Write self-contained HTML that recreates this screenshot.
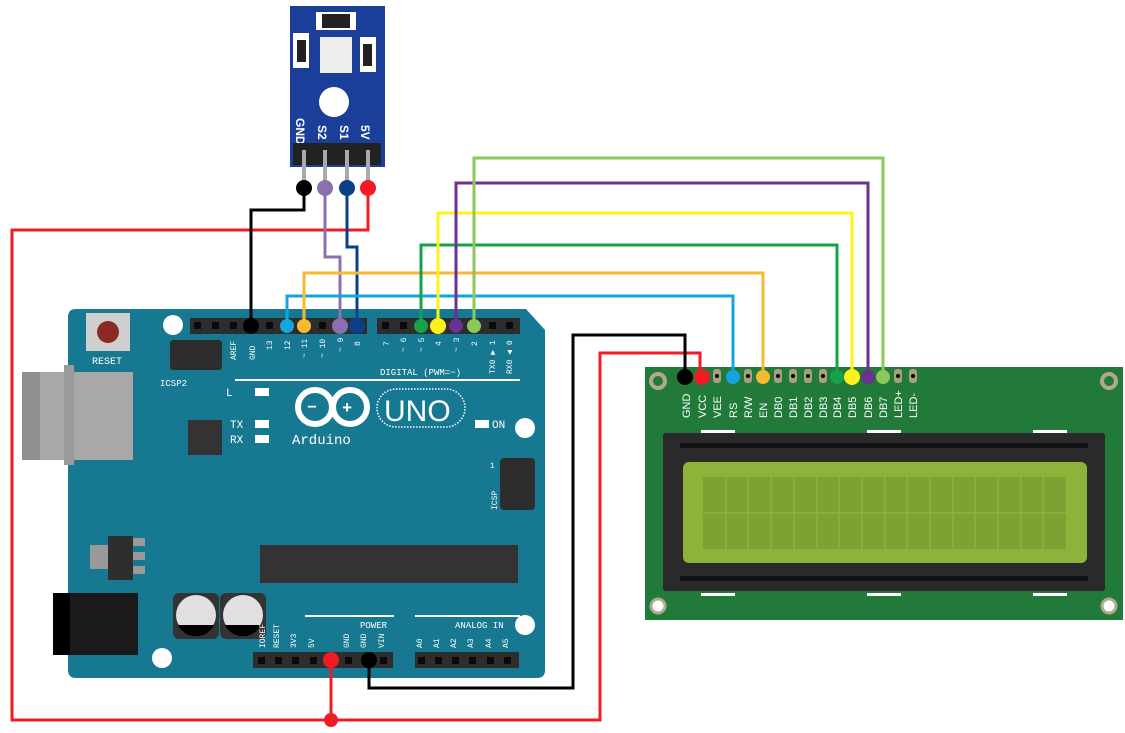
<!DOCTYPE html>
<html><head><style>body{margin:0;background:#fff}svg{display:block}</style></head><body>
<svg width="1125" height="733" viewBox="0 0 1125 733" xmlns="http://www.w3.org/2000/svg" font-family="Liberation Mono, monospace">
<!-- Arduino board -->
<path d="M76,309 H526 L545,330 V420 L545,670 Q545,678 537,678 H76 Q68,678 68,670 V317 Q68,309 76,309 Z" fill="#177892"/>
<rect x="22" y="372" width="111" height="88" fill="#a8a8a8"/><rect x="22" y="372" width="18" height="88" fill="#8f8f8f"/>
<rect x="64" y="365" width="10" height="100" fill="#9a9a9a"/>
<rect x="53" y="593" width="85" height="62" fill="#1a1a1a"/><rect x="53" y="593" width="17" height="62" fill="#000"/>
<rect x="86" y="313" width="44" height="38" fill="#cfcfcf"/><circle cx="108" cy="332" r="11" fill="#8a2a24"/>
<text x="92" y="364" font-size="10" fill="#fff">RESET</text>
<circle cx="173" cy="325" r="10" fill="#fff"/><circle cx="525" cy="428" r="10" fill="#fff"/><circle cx="525" cy="625" r="10" fill="#fff"/><circle cx="162" cy="658" r="10" fill="#fff"/>
<rect x="170" y="340" width="52" height="30" rx="3" fill="#2d2d2d"/>
<text x="160" y="386" font-size="9" fill="#fff">ICSP2</text>
<rect x="188" y="420" width="34" height="35" fill="#333"/>
<rect x="255" y="388" width="14" height="8" fill="#fff"/><rect x="255" y="420" width="14" height="8" fill="#fff"/><rect x="255" y="435" width="14" height="8" fill="#fff"/><rect x="475" y="420" width="14" height="8" fill="#fff"/>
<text x="226" y="396" font-size="11" fill="#fff">L</text><text x="230" y="428" font-size="11" fill="#fff">TX</text><text x="230" y="443" font-size="11" fill="#fff">RX</text><text x="492" y="428" font-size="11" fill="#fff">ON</text>
<line x1="235" y1="380" x2="520" y2="380" stroke="#fff" stroke-width="2"/>
<text x="380" y="375" font-size="9" fill="#fff">DIGITAL (PWM=~)</text>
<g fill="none" stroke="#fff" stroke-width="6"><circle cx="315" cy="407" r="17"/><circle cx="350" cy="407" r="17"/></g>
<text x="307" y="412" font-size="16" fill="#fff" font-weight="bold">−</text><text x="342" y="413" font-size="17" fill="#fff" font-weight="bold">+</text>
<rect x="377" y="389" width="88" height="38" rx="19" fill="none" stroke="#fff" stroke-width="1.5" stroke-dasharray="1.5 1.5"/>
<text x="384" y="421" font-family="Liberation Sans, sans-serif" font-size="30" fill="#fff">UNO</text>
<text x="292" y="444" font-size="14" fill="#fff">Arduino</text>
<rect x="500" y="458" width="35" height="52" rx="4" fill="#2d2d2d"/>
<rect x="108" y="536" width="25" height="44" fill="#2e2e2e"/><rect x="90" y="545" width="18" height="24" fill="#999"/><rect x="133" y="538" width="12" height="8" fill="#999"/><rect x="133" y="552" width="12" height="8" fill="#999"/><rect x="133" y="566" width="12" height="8" fill="#999"/>
<rect x="260" y="545" width="258" height="38" fill="#333"/>
<rect x="173" y="593" width="46" height="46" rx="6" fill="#333"/><rect x="220" y="593" width="46" height="46" rx="6" fill="#333"/>
<circle cx="196" cy="615" r="20" fill="#e0e0e0"/><circle cx="243" cy="615" r="20" fill="#e0e0e0"/>
<path d="M178,625 A20,20 0 0 0 214,625 Z M225,625 A20,20 0 0 0 261,625 Z" fill="#000"/>
<line x1="305" y1="616" x2="394" y2="616" stroke="#fff" stroke-width="2"/><line x1="415" y1="616" x2="520" y2="616" stroke="#fff" stroke-width="2"/>
<text x="360" y="628" font-size="9" fill="#fff">POWER</text><text x="455" y="628" font-size="9" fill="#fff">ANALOG IN</text>
<!-- headers -->
<rect x="190" y="318" width="177" height="16" fill="#2d2d2d"/><rect x="377" y="318" width="143" height="16" fill="#2d2d2d"/>
<rect x="253" y="652" width="140" height="16" fill="#2d2d2d"/><rect x="415" y="652" width="104" height="16" fill="#2d2d2d"/>
<g fill="#0a0a0a">
<rect x="194" y="322" width="7" height="7"/><rect x="212" y="322" width="7" height="7"/><rect x="230" y="322" width="7" height="7"/><rect x="266" y="322" width="7" height="7"/><rect x="319" y="322" width="7" height="7"/>
<rect x="382" y="322" width="7" height="7"/><rect x="400" y="322" width="7" height="7"/><rect x="489" y="322" width="7" height="7"/><rect x="506" y="322" width="7" height="7"/>
<rect x="258" y="657" width="7" height="7"/><rect x="275" y="657" width="7" height="7"/><rect x="292" y="657" width="7" height="7"/><rect x="310" y="657" width="7" height="7"/><rect x="345" y="657" width="7" height="7"/><rect x="380" y="657" width="7" height="7"/>
<rect x="418" y="657" width="7" height="7"/><rect x="435" y="657" width="7" height="7"/><rect x="452" y="657" width="7" height="7"/><rect x="469" y="657" width="7" height="7"/><rect x="487" y="657" width="7" height="7"/><rect x="504" y="657" width="7" height="7"/>
</g>
<g font-size="8" fill="#fff">
<text transform="translate(236,360) rotate(-90)">AREF</text><text transform="translate(255,360) rotate(-90)">GND</text><text transform="translate(272,350) rotate(-90)">13</text><text transform="translate(290,350) rotate(-90)">12</text><text transform="translate(307,358) rotate(-90)">~ 11</text><text transform="translate(325,358) rotate(-90)">~ 10</text><text transform="translate(343,352) rotate(-90)">~ 9</text><text transform="translate(360,346) rotate(-90)">8</text>
<text transform="translate(389,346) rotate(-90)">7</text><text transform="translate(406,352) rotate(-90)">~ 6</text><text transform="translate(424,352) rotate(-90)">~ 5</text><text transform="translate(441,346) rotate(-90)">4</text><text transform="translate(459,352) rotate(-90)">~ 3</text><text transform="translate(477,346) rotate(-90)">2</text><text transform="translate(495,374) rotate(-90)">TX0 ▶ 1</text><text transform="translate(512,374) rotate(-90)">RX0 ◀ 0</text>
<text transform="translate(265,648) rotate(-90)">IOREF</text><text transform="translate(279,648) rotate(-90)">RESET</text><text transform="translate(296,648) rotate(-90)">3V3</text><text transform="translate(314,648) rotate(-90)">5V</text><text transform="translate(349,648) rotate(-90)">GND</text><text transform="translate(366,648) rotate(-90)">GND</text><text transform="translate(384,648) rotate(-90)">VIN</text>
<text transform="translate(422,648) rotate(-90)">A0</text><text transform="translate(439,648) rotate(-90)">A1</text><text transform="translate(456,648) rotate(-90)">A2</text><text transform="translate(473,648) rotate(-90)">A3</text><text transform="translate(491,648) rotate(-90)">A4</text><text transform="translate(508,648) rotate(-90)">A5</text>
<text transform="translate(497,510) rotate(-90)">ICSP</text><text x="490" y="468">1</text>
</g>
<!-- LCD -->
<rect x="645" y="367" width="478" height="253" fill="#217a3a"/>
<g fill="none" stroke="#b3a98a" stroke-width="4"><circle cx="658" cy="381" r="7"/><circle cx="1109" cy="381" r="7"/></g>
<g fill="#fff" stroke="#b3a98a" stroke-width="3"><circle cx="658" cy="606" r="7"/><circle cx="1109" cy="606" r="7"/></g>
<g fill="#a89f80">
<rect x="713" y="369" width="8" height="14" rx="3"/><rect x="744" y="369" width="8" height="14" rx="3"/><rect x="774" y="369" width="8" height="14" rx="3"/><rect x="789" y="369" width="8" height="14" rx="3"/><rect x="804" y="369" width="8" height="14" rx="3"/><rect x="819" y="369" width="8" height="14" rx="3"/><rect x="894" y="369" width="8" height="14" rx="3"/><rect x="909" y="369" width="8" height="14" rx="3"/>
</g>
<g fill="#000"><circle cx="717" cy="376" r="2"/><circle cx="748" cy="376" r="2"/><circle cx="778" cy="376" r="2"/><circle cx="793" cy="376" r="2"/><circle cx="808" cy="376" r="2"/><circle cx="823" cy="376" r="2"/><circle cx="898" cy="376" r="2"/><circle cx="913" cy="376" r="2"/></g>
<g font-family="Liberation Sans, sans-serif" font-size="11" fill="#fff">
<text transform="translate(690,418) rotate(-90)">GND</text><text transform="translate(706,418) rotate(-90)">VCC</text><text transform="translate(721,418) rotate(-90)">VEE</text><text transform="translate(737,418) rotate(-90)">RS</text><text transform="translate(752,418) rotate(-90)">R/W</text><text transform="translate(767,418) rotate(-90)">EN</text><text transform="translate(782,418) rotate(-90)">DB0</text><text transform="translate(797,418) rotate(-90)">DB1</text><text transform="translate(812,418) rotate(-90)">DB2</text><text transform="translate(827,418) rotate(-90)">DB3</text><text transform="translate(841,418) rotate(-90)">DB4</text><text transform="translate(856,418) rotate(-90)">DB5</text><text transform="translate(872,418) rotate(-90)">DB6</text><text transform="translate(887,418) rotate(-90)">DB7</text><text transform="translate(902,418) rotate(-90)">LED+</text><text transform="translate(917,418) rotate(-90)">LED-</text>
</g>
<g fill="#fff"><rect x="701" y="430" width="34" height="3"/><rect x="867" y="430" width="34" height="3"/><rect x="1033" y="430" width="34" height="3"/><rect x="701" y="593" width="34" height="3"/><rect x="867" y="593" width="34" height="3"/><rect x="1033" y="593" width="34" height="3"/></g>
<rect x="663" y="433" width="442" height="158" rx="3" fill="#2a2a2a"/>
<rect x="680" y="443" width="408" height="5" rx="2" fill="#111"/><rect x="680" y="576" width="408" height="5" rx="2" fill="#111"/>
<rect x="683" y="462" width="404" height="101" rx="6" fill="#8db33a"/>
<rect x="703" y="477" width="363" height="72" fill="#7da233"/>
<g stroke="#8db33a" stroke-width="1.5">
<line x1="703" y1="513" x2="1066" y2="513"/>
<line x1="726" y1="477" x2="726" y2="549"/><line x1="748" y1="477" x2="748" y2="549"/><line x1="771" y1="477" x2="771" y2="549"/><line x1="794" y1="477" x2="794" y2="549"/><line x1="817" y1="477" x2="817" y2="549"/><line x1="839" y1="477" x2="839" y2="549"/><line x1="862" y1="477" x2="862" y2="549"/><line x1="885" y1="477" x2="885" y2="549"/><line x1="907" y1="477" x2="907" y2="549"/><line x1="930" y1="477" x2="930" y2="549"/><line x1="953" y1="477" x2="953" y2="549"/><line x1="975" y1="477" x2="975" y2="549"/><line x1="998" y1="477" x2="998" y2="549"/><line x1="1021" y1="477" x2="1021" y2="549"/><line x1="1043" y1="477" x2="1043" y2="549"/>
</g>
<!-- Sensor -->
<rect x="290" y="6" width="95" height="161" fill="#1b3f98"/>
<rect x="316" y="12" width="40" height="18" fill="#fff"/><rect x="322" y="14" width="28" height="14" fill="#222"/>
<rect x="320" y="37" width="32" height="36" fill="#eee"/>
<rect x="293" y="33" width="16" height="35" fill="#fff"/><rect x="297" y="40" width="9" height="22" fill="#222"/>
<rect x="360" y="37" width="16" height="35" fill="#fff"/><rect x="363" y="44" width="9" height="22" fill="#222"/>
<circle cx="334" cy="102" r="15" fill="#fff"/>
<g font-family="Liberation Sans, sans-serif" font-size="12" fill="#fff" font-weight="bold">
<text transform="translate(296,118) rotate(90)">GND</text><text transform="translate(318,125) rotate(90)">S2</text><text transform="translate(340,125) rotate(90)">S1</text><text transform="translate(361,125) rotate(90)">5V</text></g>
<rect x="293" y="143" width="88" height="22" fill="#222"/>
<g stroke="#aaa" stroke-width="4"><line x1="304" y1="150" x2="304" y2="188"/><line x1="325" y1="150" x2="325" y2="188"/><line x1="347" y1="150" x2="347" y2="188"/><line x1="368" y1="150" x2="368" y2="188"/></g>
<!-- wires -->
<g fill="none" stroke-width="3" stroke-linejoin="miter">
<path d="M368,188 V230 H12 V720 H600 V353 H700 V377" stroke="#f01c24"/>
<path d="M331,660 V720" stroke="#f01c24"/>
<path d="M304,188 V210 H251 V326" stroke="#000"/>
<path d="M369,660 V688 H573 V335 H685 V377" stroke="#000"/>
<path d="M325,188 V257 H340 V326" stroke="#8b6fb0"/>
<path d="M347,188 V247 H357 V326" stroke="#0c3f8a"/>
<path d="M287,326 V296 H733 V377" stroke="#15a5de"/>
<path d="M304,326 V273 H763 V377" stroke="#f6b930"/>
<path d="M421,326 V245 H837 V377" stroke="#15a24a"/>
<path d="M438,326 V213 H852 V377" stroke="#fff21a"/>
<path d="M456,326 V183 H868 V377" stroke="#6a3190"/>
<path d="M474,326 V158 H883 V377" stroke="#8bc859"/>
</g>
<g>
<circle cx="304" cy="188" r="8" fill="#000"/><circle cx="325" cy="188" r="8" fill="#8b6fb0"/><circle cx="347" cy="188" r="8" fill="#0c3f8a"/><circle cx="368" cy="188" r="8" fill="#f01c24"/>
<circle cx="251" cy="326" r="8" fill="#000"/><circle cx="287" cy="326" r="7" fill="#15a5de"/><circle cx="304" cy="326" r="7" fill="#f6b930"/><circle cx="340" cy="326" r="8" fill="#8b6fb0"/><circle cx="357" cy="326" r="8" fill="#0c3f8a"/>
<circle cx="421" cy="326" r="7" fill="#15a24a"/><circle cx="438" cy="326" r="8" fill="#fff21a"/><circle cx="456" cy="326" r="7" fill="#6a3190"/><circle cx="474" cy="326" r="7" fill="#8bc859"/>
<circle cx="331" cy="660" r="8" fill="#f01c24"/><circle cx="369" cy="660" r="8" fill="#000"/><circle cx="331" cy="720" r="7" fill="#f01c24"/>
<circle cx="685" cy="377" r="8" fill="#000"/><circle cx="702" cy="377" r="8" fill="#f01c24"/><circle cx="733" cy="377" r="7" fill="#15a5de"/><circle cx="763" cy="377" r="7" fill="#f6b930"/><circle cx="837" cy="377" r="7" fill="#15a24a"/><circle cx="852" cy="377" r="8" fill="#fff21a"/><circle cx="868" cy="377" r="7" fill="#6a3190"/><circle cx="883" cy="377" r="7" fill="#8bc859"/>
</g>
</svg>
</body></html>
